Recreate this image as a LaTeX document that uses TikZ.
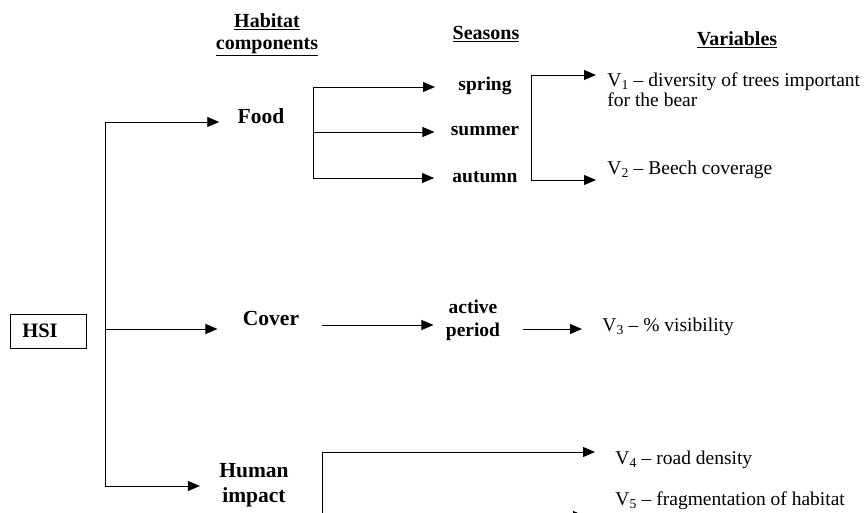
\documentclass[tikz,border=0pt]{standalone}
\usepackage{fontspec}
\setmainfont{Liberation Serif}
\usetikzlibrary{arrows.meta}
\begin{document}
\begin{tikzpicture}[x=1pt, y=-1pt, line width=0.9pt,
    arr/.style={-{Triangle[length=12pt,width=10pt]}},
    head/.style={font=\fontsize{20}{22}\selectfont\bfseries, align=center, inner sep=0pt},
    comp/.style={font=\fontsize{21.5}{25}\selectfont\bfseries, align=center, inner sep=0pt},
    season/.style={font=\fontsize{19.5}{23}\selectfont\bfseries, align=center, inner sep=0pt},
    var/.style={font=\fontsize{19.5}{20}\selectfont, align=left, anchor=west, inner sep=0pt},
    hsibox/.style={draw, line width=0.8pt, font=\fontsize{20.5}{22}\selectfont\bfseries,
        anchor=west, inner xsep=12pt, text width=52pt, minimum height=34pt, align=left}]
    \useasboundingbox (0,0) rectangle (865,512);
    \clip (0,0) rectangle (865,512);

    % --- Column headings ---
    \node[head] (hhab) at (267,35) {\underline{Habitat}\\\underline{components}};
    \node[head] (hsea) at (486,34) {\underline{Seasons}};
    \node[head] (hvar) at (737,40) {\underline{Variables}};

    % --- Root box ---
    \node[hsibox] (hsi) at (10,331) {HSI};

    % --- Habitat components ---
    \node[comp] (food) at (261,116) {Food};
    \node[comp] (cover) at (271,318) {Cover};
    \node[comp] (human) at (254,485) {Human\\impact};

    % --- Seasons ---
    \node[season] (spring) at (485,86) {spring};
    \node[season] (summer) at (485,131) {summer};
    \node[season] (autumn) at (485,177) {autumn};
    \node[season] (active) at (473,320) {active\\period};

    % --- Variables ---
    \node[var] (v1) at (607,90) {V\textsubscript{1} -- diversity of trees important\\for the bear};
    \node[var] (v2) at (607,170) {V\textsubscript{2} -- Beech coverage};
    \node[var] (v3) at (602,327) {V\textsubscript{3} -- \% visibility};
    \node[var] (v4) at (615,460) {V\textsubscript{4} -- road density};
    \node[var] (v5) at (615,501) {V\textsubscript{5} -- fragmentation of habitat};

    % --- Trunk from HSI to the components ---
    \coordinate (tf) at (105,122);
    \coordinate (tc) at (105,329);
    \coordinate (th) at (105,486);
    \draw (tf) -- (th);
    \draw[arr, shorten >=18pt] (tf) -- (tf -| food.west);
    \draw[arr, shorten >=25pt] (tc) -- (tc -| cover.west);
    \draw[arr, shorten >=19pt] (th) -- (th -| human.west);

    % --- Food to seasons ---
    \coordinate (f1) at (313,87);
    \coordinate (f2) at (313,132);
    \coordinate (f3) at (313,178);
    \draw (f1) -- (f3);
    \draw[arr, shorten >=23pt] (f1) -- (f1 -| spring.west);
    \draw[arr, shorten >=16pt] (f2) -- (f2 -| summer.west);
    \draw[arr, shorten >=18pt] (f3) -- (f3 -| autumn.west);

    % --- Seasons to food variables ---
    \coordinate (s1) at (531,75);
    \coordinate (s2) at (531,180);
    \draw (s1) -- (s2);
    \draw[arr, shorten >=11pt] (s1) -- (s1 -| v1.west);
    \draw[arr, shorten >=11pt] (s2) -- (s2 -| v2.west);

    % --- Cover chain ---
    \coordinate (c1) at (322,325);
    \coordinate (c2) at (523,329);
    \draw[arr, shorten >=12pt] (c1) -- (c1 -| active.west);
    \draw[arr, shorten >=20pt] (c2) -- (c2 -| v3.west);

    % --- Human impact to variables ---
    \coordinate (h1) at (322,452);
    \coordinate (h2) at (322,516);
    \draw (h1) -- ([yshift=-20pt]h2);
    \draw[arr, shorten >=20pt] (h1) -- (h1 -| v4.west);
    \draw[arr, shorten >=30pt] (h2) -- (h2 -| v5.west);
\end{tikzpicture}
\end{document}
